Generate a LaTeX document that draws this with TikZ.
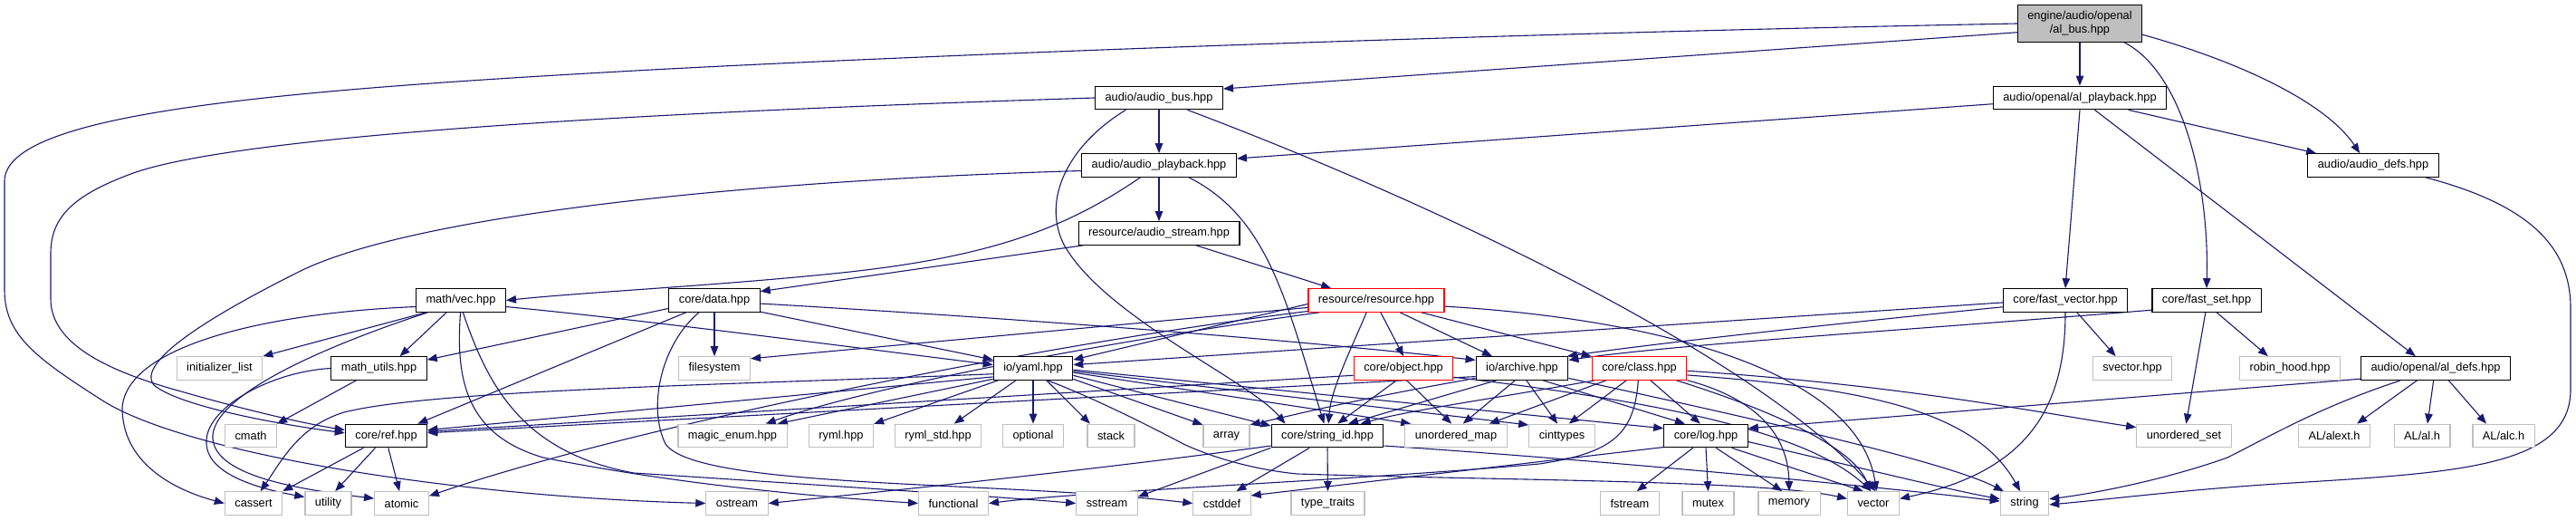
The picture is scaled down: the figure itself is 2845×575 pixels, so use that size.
\documentclass[tikz,border=0pt]{standalone}
\usepackage{fontspec}
\setmainfont{Liberation Sans}
\usetikzlibrary{arrows.meta}
\definecolor{edgec}{HTML}{191970}
\definecolor{graybd}{HTML}{BFBFBF}
\definecolor{redbd}{HTML}{FF0000}
\pgfdeclarelayer{bg}
\pgfsetlayers{bg,main}
\begin{document}
\begin{tikzpicture}[x=1pt,y=-1pt,
  nb/.style={rectangle, fill=white, inner xsep=11pt, inner ysep=0pt, minimum height=25.5pt, font=\fontsize{12.8pt}{15pt}\selectfont, line width=1.2pt},
  bn/.style={nb, draw=black},
  gn/.style={nb, draw=graybd},
  rn/.style={nb, draw=redbd},
  dep/.style={draw=edgec, line width=1.1pt, -{Triangle[length=11pt,width=8.5pt]}}]
\useasboundingbox (0,0) rectangle (2845,575);
% rank 0-3
\node[bn, fill=graybd, align=center, minimum height=40.5pt] (root) at (2297,26) {engine/audio/openal\\/al\_bus.hpp};
\node[bn] (abus) at (1280,108) {audio/audio\_bus.hpp};
\node[bn] (alpb) at (2297,108) {audio/openal/al\_playback.hpp};
\node[bn] (apb) at (1280,182.5) {audio/audio\_playback.hpp};
\node[bn] (adefs) at (2621,182.5) {audio/audio\_defs.hpp};
\node[bn] (astream) at (1280,257.5) {resource/audio\_stream.hpp};
% rank 4
\node[bn] (vec) at (509,331.5) {math/vec.hpp};
\node[bn] (data) at (789,331.5) {core/data.hpp};
\node[rn] (res) at (1520,331.5) {resource/resource.hpp};
\node[bn] (fvec) at (2281,331.5) {core/fast\_vector.hpp};
\node[bn] (fset) at (2437,331.5) {core/fast\_set.hpp};
% rank 5
\node[gn] (initl) at (242.5,406.5) {initializer\_list};
\node[bn] (mutils) at (418.5,406.5) {math\_utils.hpp};
\node[gn] (fsys) at (789,406.5) {filesystem};
\node[bn] (yaml) at (1141,406.5) {io/yaml.hpp};
\node[rn] (obj) at (1550,406.5) {core/object.hpp};
\node[bn] (arch) at (1681,406.5) {io/archive.hpp};
\node[rn] (cls) at (1810.5,406.5) {core/class.hpp};
\node[gn] (svec) at (2355,406.5) {svector.hpp};
\node[gn] (robin) at (2529,406.5) {robin\_hood.hpp};
\node[bn] (aldefs) at (2690,406.5) {audio/openal/al\_defs.hpp};
% rank 6
\node[gn] (cmath) at (277,481) {cmath};
\node[bn] (ref) at (426.5,481) {core/ref.hpp};
\node[gn] (menum) at (809,481) {magic\_enum.hpp};
\node[gn] (ryml) at (929,481) {ryml.hpp};
\node[gn] (rymlstd) at (1036,481) {ryml\_std.hpp};
\node[gn] (optional) at (1141,481) {optional};
\node[gn] (stack) at (1227,481) {stack};
\node[gn] (array) at (1354.5,481) {array};
\node[bn] (sid) at (1466,481) {core/string\_id.hpp};
\node[gn] (umap) at (1608,481) {unordered\_map};
\node[gn] (cint) at (1725,481) {cinttypes};
\node[bn] (log) at (1884,481) {core/log.hpp};
\node[gn] (uset) at (2412,481) {unordered\_set};
\node[gn] (alext) at (2578,481) {AL/alext.h};
\node[gn] (al) at (2675,481) {AL/al.h};
\node[gn] (alc) at (2765,481) {AL/alc.h};
% rank 7
\node[gn] (cassert) at (280,555.5) {cassert};
\node[gn] (utility) at (362.5,555.5) {utility};
\node[gn] (atomic) at (443.5,555.5) {atomic};
\node[gn] (ostream) at (814,555.5) {ostream};
\node[gn] (functional) at (1053,555.5) {functional};
\node[gn] (sstream) at (1222.5,555.5) {sstream};
\node[gn] (cstddef) at (1349.5,555.5) {cstddef};
\node[gn] (ttraits) at (1466.5,555.5) {type\_traits};
\node[gn] (fstream) at (1800,555.5) {fstream};
\node[gn] (mutex) at (1886.5,555.5) {mutex};
\node[gn] (memory) at (1976,555.5) {memory};
\node[gn] (vector) at (2069,555.5) {vector};
\node[gn] (string) at (2236,555.5) {string};

\begin{pgfonlayer}{bg}
\fill[white] (0,0) rectangle (2845,575);
% root
\draw[dep] (root.188) -- (abus.8);
\draw[dep] (root.south) -- (alpb.north);
\draw[dep] (root.-10) .. controls (2480,70) and (2570,115) .. (adefs.138);
\draw[dep] (root.-23) .. controls (2410,80) and (2440,200) .. (fset.north);
\draw[dep] (root.west) .. controls (1600,38) and (1000,62) .. (720,77) .. controls (300,100) and (5,125) .. (5,200) -- (5,320) .. controls (5,370) and (40,395) .. (110,440) .. controls (200,500) and (500,548) .. (ostream.west);
% al_playback
\draw[dep] (alpb.184) -- (apb.5);
\draw[dep] (alpb.south) -- (fvec.north);
\draw[dep] (alpb.-39) -- (aldefs.149);
\draw[dep] (alpb.-14) -- (adefs.168);
% audio_defs
\draw[dep] (adefs.-13) .. controls (2790,225) and (2839,270) .. (2839,340) -- (2839,430) .. controls (2839,520) and (2700,522) .. (2500,535) .. controls (2400,542) and (2320,552) .. (string.-3);
% audio_bus
\draw[dep] (abus.south) -- (apb.north);
\draw[dep] (abus.west) .. controls (900,118) and (300,140) .. (150,190) .. controls (80,215) and (56,240) .. (56,280) -- (56,330) .. controls (56,380) and (120,410) .. (200,432) .. controls (280,455) and (340,468) .. (ref.172);
\draw[dep] (abus.200) .. controls (1180,160) and (1150,220) .. (1175,270) .. controls (1220,350) and (1380,420) .. (sid.164);
\draw[dep] (abus.-23) .. controls (1600,230) and (1950,400) .. (vector.80);
% audio_playback
\draw[dep] (apb.south) -- (astream.north);
\draw[dep] (apb.184) .. controls (800,200) and (450,240) .. (330,300) .. controls (230,350) and (150,400) .. (170,425) .. controls (200,450) and (320,470) .. (ref.176);
\draw[dep] (apb.213) .. controls (1180,250) and (1100,282) .. (939,300) .. controls (800,315) and (650,322) .. (vec.east);
\draw[dep] (apb.-22) .. controls (1400,240) and (1420,330) .. (sid.105);
% audio_stream
\draw[dep] (astream.189) -- (data.11);
\draw[dep] (astream.-18) -- (res.165);
% vec
\draw[dep] (vec.199) -- (initl.north east);
\draw[dep] (vec.220) -- (mutils.30);
\draw[dep] (vec.188) .. controls (300,345) and (140,380) .. (135,450) .. controls (135,510) and (190,540) .. (cassert.west);
\draw[dep] (vec.200) .. controls (380,375) and (240,430) .. (235,480) .. controls (232,525) and (330,540) .. (atomic.170);
\draw[dep] (vec.-8) .. controls (700,352) and (900,378) .. (yaml.175);
\draw[dep] (vec.-92) .. controls (503,420) and (515,480) .. (600,505) .. controls (750,535) and (900,548) .. (functional.west);
\draw[dep] (vec.-80) .. controls (540,430) and (580,500) .. (700,522) .. controls (900,535) and (1100,548) .. (sstream.west);
% math_utils
\draw[dep] (mutils.west) .. controls (300,410) and (225,450) .. (228,490) .. controls (230,525) and (290,540) .. (utility.165);
\draw[dep] (mutils.208) -- (cmath.north east);
% data
\draw[dep] (data.south) -- (fsys.north);
\draw[dep] (data.190) -- (mutils.10);
\draw[dep] (data.203) -- (ref.21);
\draw[dep] (data.-14) -- (yaml.168);
\draw[dep] (data.-4) .. controls (1100,350) and (1400,372) .. (arch.170);
\draw[dep] (data.218) .. controls (730,380) and (715,450) .. (735,490) .. controls (770,540) and (1100,530) .. (cstddef.west);
% resource
\draw[dep] (res.-70) -- (obj.north);
\draw[dep] (res.231) .. controls (1490,390) and (1470,430) .. (sid.85);
\draw[dep] (res.-27) -- (arch.158);
\draw[dep] (res.-15) -- (cls.166);
\draw[dep] (res.-5) .. controls (1800,350) and (2050,400) .. (vector.75);
\draw[dep] (res.183) -- (yaml.12);
\draw[dep] (res.186) -- (fsys.15);
\draw[dep] (res.192) .. controls (1200,380) and (950,430) .. (menum.20);
\draw[dep] (res.189) .. controls (1150,380) and (700,470) .. (atomic.15);
% object
\draw[dep] (obj.-120) -- (sid.50);
\draw[dep] (obj.-75) -- (umap.110);
\draw[dep] (obj.188) -- (ref.6);
\draw[dep] (obj.-10) .. controls (1850,445) and (2000,480) .. (vector.100);
% archive
\draw[dep] (arch.-120) -- (umap.60);
\draw[dep] (arch.-70) -- (cint.110);
\draw[dep] (arch.-30) -- (log.150);
\draw[dep] (arch.-155) -- (sid.30);
\draw[dep] (arch.190) -- (ref.4);
\draw[dep] (arch.192) .. controls (1500,440) and (1420,460) .. (array.25);
\draw[dep] (arch.-12) .. controls (1950,465) and (2150,510) .. (string.150);
% class
\draw[dep] (cls.200) -- (umap.20);
\draw[dep] (cls.223) -- (cint.60);
\draw[dep] (cls.-47) -- (log.115);
\draw[dep] (cls.195) .. controls (1650,440) and (1560,452) .. (sid.20);
\draw[dep] (cls.-3) .. controls (2100,425) and (2250,455) .. (uset.170);
\draw[dep] (cls.-8) .. controls (2050,428) and (2180,450) .. (string.110);
\draw[dep] (cls.-14) .. controls (1940,440) and (1975,480) .. (memory.north);
\draw[dep] (cls.-18) .. controls (1980,460) and (2050,500) .. (vector.105);
\draw[dep] (cls.-95) .. controls (1805,480) and (1780,500) .. (1700,512) .. controls (1500,530) and (1200,542) .. (functional.east);
% log
\draw[dep] (log.-137) -- (fstream.60);
\draw[dep] (log.south) -- (mutex.north);
\draw[dep] (log.-50) -- (memory.120);
\draw[dep] (log.-25) -- (vector.130);
\draw[dep] (log.-8) .. controls (2050,515) and (2150,540) .. (string.170);
\draw[dep] (log.195) -- (cstddef.15);
% string_id
\draw[dep] (sid.214) -- (cstddef.40);
\draw[dep] (sid.south) -- (ttraits.north);
\draw[dep] (sid.190) .. controls (1200,520) and (950,545) .. (ostream.east);
\draw[dep] (sid.192) -- (sstream.12);
\draw[dep] (sid.-10) .. controls (1800,510) and (2100,540) .. (string.175);
% yaml
\draw[dep] (yaml.195) -- (menum.15);
\draw[dep] (yaml.199) -- (ryml.20);
\draw[dep] (yaml.215) -- (rymlstd.37);
\draw[dep] (yaml.south) -- (optional.north);
\draw[dep] (yaml.-42) -- (stack.150);
\draw[dep] (yaml.-15) -- (array.155);
\draw[dep] (yaml.-10) -- (sid.170);
\draw[dep] (yaml.-6) -- (umap.165);
\draw[dep] (yaml.-4) -- (cint.162);
\draw[dep] (yaml.-2) -- (log.170);
\draw[dep] (yaml.-40) .. controls (1200,436) and (1260,465) .. (1307,490) .. controls (1350,510) and (1400,520) .. (1433,523) .. controls (1650,530) and (1950,530) .. (vector.170);
\draw[dep] (yaml.188) .. controls (800,425) and (480,430) .. (380,455) .. controls (330,470) and (310,510) .. (cassert.60);
\draw[dep] (yaml.192) -- (ref.8);
% fast_vector
\draw[dep] (fvec.-46) -- (svec.144);
\draw[dep] (fvec.south) .. controls (2281,450) and (2240,520) .. (vector.10);
\draw[dep] (fvec.182) -- (yaml.5);
\draw[dep] (fvec.186) .. controls (1950,365) and (1800,383) .. (arch.15);
% fast_set
\draw[dep] (fset.190) .. controls (2100,365) and (1850,380) .. (arch.10);
\draw[dep] (fset.-95) -- (uset.80);
\draw[dep] (fset.-50) -- (robin.151);
% al_defs
\draw[dep] (aldefs.213) -- (alext.28);
\draw[dep] (aldefs.-100) -- (al.66);
\draw[dep] (aldefs.-43) -- (alc.145);
\draw[dep] (aldefs.199) .. controls (2560,450) and (2510,480) .. (2460,505) .. controls (2390,530) and (2310,545) .. (string.10);
\draw[dep] (aldefs.188) -- (log.10);
% ref
\draw[dep] (ref.208) -- (cassert.north east);
\draw[dep] (ref.228) -- (utility.60);
\draw[dep] (ref.-80) -- (atomic.100);
\end{pgfonlayer}
\end{tikzpicture}
\end{document}
